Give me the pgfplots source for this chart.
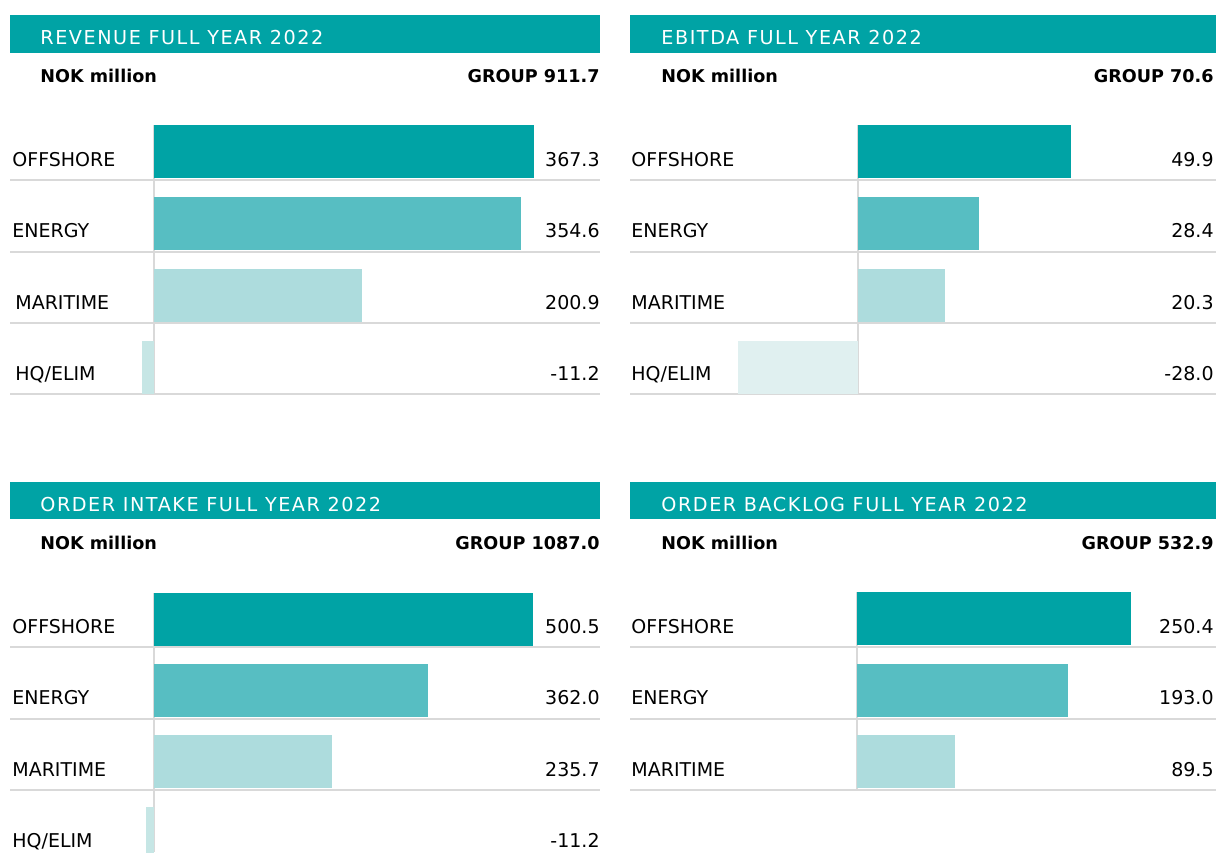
\documentclass[border=0pt]{standalone}
\usepackage{pgfplots}
\pgfplotsset{compat=1.18}
\usepackage{fontspec}
\setmainfont{DejaVu Sans}
\definecolor{c1}{HTML}{00A3A5}
\definecolor{c2}{HTML}{57BEC2}
\definecolor{c3}{HTML}{ADDCDD}
\definecolor{c4}{HTML}{C6E6E5}
\definecolor{c5}{HTML}{E0F0F0}
\definecolor{gl}{HTML}{D9D9D9}
\pgfplotsset{panel/.style={anchor=south west, scale only axis, hide axis, y dir=reverse, clip=false, enlargelimits=false},
 hb/.style={xbar, bar width=53, bar shift=0pt, draw=none}}
\newcommand{\hdr}[1]{{\fontsize{9.6}{12}\selectfont\addfontfeature{LetterSpace=8}#1}}
\newcommand{\lab}{\fontsize{9.5}{12}\selectfont}
\newcommand{\blab}{\fontsize{8.8}{12}\selectfont\bfseries}
\begin{document}
\begin{tikzpicture}[x=0.5pt,y=-0.5pt]
\useasboundingbox (0,0) rectangle (1216,852);
% ---------- header bands
\fill[c1] (10,15) rectangle (600,53);
\fill[c1] (630,15) rectangle (1216,53);
\fill[c1] (10,482) rectangle (600,519);
\fill[c1] (630,482) rectangle (1216,519);
\node[anchor=base west, inner sep=0, text=white] at (40,44) {\hdr{REVENUE FULL YEAR 2022}};
\node[anchor=base west, inner sep=0, text=white] at (661,44) {\hdr{EBITDA FULL YEAR 2022}};
\node[anchor=base west, inner sep=0, text=white] at (40,511) {\hdr{ORDER INTAKE FULL YEAR 2022}};
\node[anchor=base west, inner sep=0, text=white] at (661,511) {\hdr{ORDER BACKLOG FULL YEAR 2022}};
\node[anchor=base west, inner sep=0] at (40,82) {\blab NOK million};
\node[anchor=base west, inner sep=0] at (661,82) {\blab NOK million};
\node[anchor=base west, inner sep=0] at (40,549) {\blab NOK million};
\node[anchor=base west, inner sep=0] at (661,549) {\blab NOK million};
\node[anchor=base east, inner sep=0] at (600,82) {\blab GROUP 911.7};
\node[anchor=base east, inner sep=0] at (1214,82) {\blab GROUP 70.6};
\node[anchor=base east, inner sep=0] at (600,549) {\blab GROUP 1087.0};
\node[anchor=base east, inner sep=0] at (1214,549) {\blab GROUP 532.9};
% ---------- grid lines
\begin{scope}[gl, line width=1pt]
\foreach \y in {180,251.5,322.5,394} {\draw (10,\y) -- (600,\y); \draw (630,\y) -- (1216,\y);}
\foreach \y in {647,718.5,789.5} {\draw (10,\y) -- (600,\y); \draw (630,\y) -- (1216,\y);}
\draw (154,125) -- (154,394);
\draw (858,125) -- (858,394);
\draw (154,593) -- (154,852);
\draw (857,592) -- (857,789.5);
\end{scope}
% ---------- REVENUE
\begin{axis}[panel, at={(5pt,-200pt)}, width=295pt, height=150pt, xmin=-139.1, xmax=430.9, ymin=100, ymax=400]
\addplot[hb, fill=c1] coordinates {(367.3,151.5)};
\addplot[hb, fill=c2] coordinates {(354.6,223.5)};
\addplot[hb, fill=c3] coordinates {(200.9,295)};
\addplot[hb, fill=c4] coordinates {(-11.2,367.5)};
\end{axis}
% ---------- EBITDA
\begin{axis}[panel, at={(315pt,-200pt)}, width=293pt, height=150pt, xmin=-53.4, xmax=83.8, ymin=100, ymax=400]
\addplot[hb, fill=c1] coordinates {(49.9,151.5)};
\addplot[hb, fill=c2] coordinates {(28.4,223.5)};
\addplot[hb, fill=c3] coordinates {(20.3,295)};
\addplot[hb, fill=c5] coordinates {(-28.0,367.5)};
\end{axis}
% ---------- ORDER INTAKE
\begin{axis}[panel, at={(5pt,-435pt)}, width=295pt, height=150pt, xmin=-190.2, xmax=589.2, ymin=570, ymax=870]
\addplot[hb, fill=c1] coordinates {(500.5,619)};
\addplot[hb, fill=c2] coordinates {(362.0,690)};
\addplot[hb, fill=c3] coordinates {(235.7,761)};
\addplot[hb, fill=c4] coordinates {(-11.2,833)};
\end{axis}
% ---------- ORDER BACKLOG
\begin{axis}[panel, at={(315pt,-435pt)}, width=293pt, height=150pt, xmin=-207.5, xmax=328.2, ymin=570, ymax=870]
\addplot[hb, fill=c1] coordinates {(250.4,618.5)};
\addplot[hb, fill=c2] coordinates {(193.0,690)};
\addplot[hb, fill=c3] coordinates {(89.5,761)};
\end{axis}
% ---------- category and value labels
\node[anchor=base west, inner sep=0] at (631,166.5) {\lab OFFSHORE};
\node[anchor=base west, inner sep=0] at (631,237.5) {\lab ENERGY};
\node[anchor=base west, inner sep=0] at (631,309) {\lab MARITIME};
\node[anchor=base west, inner sep=0] at (631,380.5) {\lab HQ/ELIM};
\node[anchor=base west, inner sep=0] at (12,166.5) {\lab OFFSHORE};
\node[anchor=base west, inner sep=0] at (12,237.5) {\lab ENERGY};
\node[anchor=base west, inner sep=0] at (15,309) {\lab MARITIME};
\node[anchor=base west, inner sep=0] at (15,380.5) {\lab HQ/ELIM};
\node[anchor=base west, inner sep=0] at (12,633.5) {\lab OFFSHORE};
\node[anchor=base west, inner sep=0] at (12,704.5) {\lab ENERGY};
\node[anchor=base west, inner sep=0] at (12,776) {\lab MARITIME};
\node[anchor=base west, inner sep=0] at (12,847.5) {\lab HQ/ELIM};
\node[anchor=base west, inner sep=0] at (631,633.5) {\lab OFFSHORE};
\node[anchor=base west, inner sep=0] at (631,704.5) {\lab ENERGY};
\node[anchor=base west, inner sep=0] at (631,776) {\lab MARITIME};
\foreach \v/\yy in {367.3/166.5, 354.6/237.5, 200.9/309, -11.2/380.5, 500.5/633.5, 362.0/704.5, 235.7/776, -11.2/847.5} {
  \node[anchor=base east, inner sep=0] at (600,\yy) {\lab \v};
}
\foreach \v/\yy in {49.9/166.5, 28.4/237.5, 20.3/309, -28.0/380.5, 250.4/633.5, 193.0/704.5, 89.5/776} {
  \node[anchor=base east, inner sep=0] at (1214,\yy) {\lab \v};
}
\end{tikzpicture}
\end{document}
